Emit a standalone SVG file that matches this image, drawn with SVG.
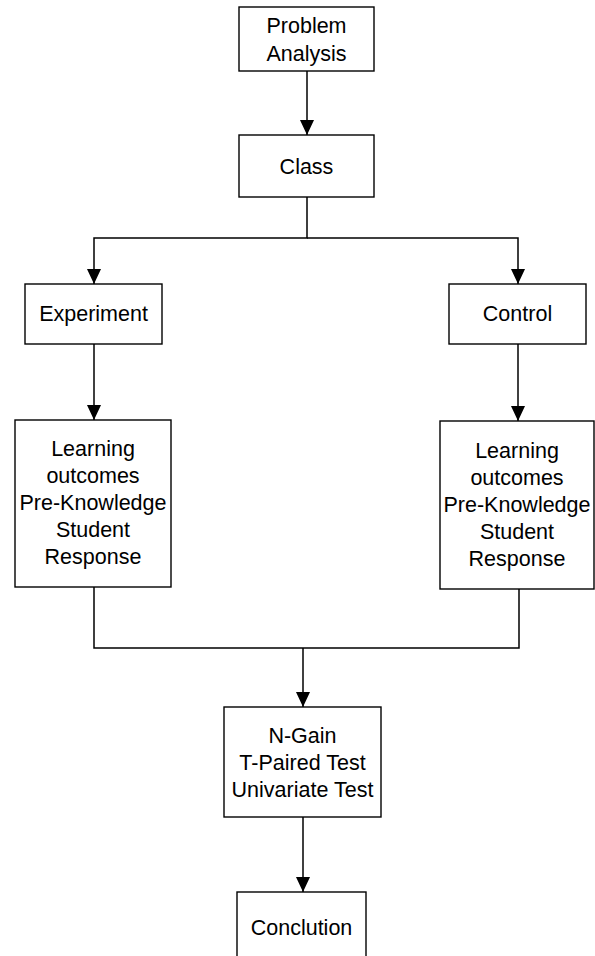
<svg xmlns="http://www.w3.org/2000/svg" width="595" height="956" viewBox="0 0 595 956">
<style>
.box{fill:#fff;stroke:#000;stroke-width:1.4}
.t{font-family:"Liberation Sans",Arial,sans-serif;font-size:21.5px;fill:#000;text-anchor:middle}
.c{fill:none;stroke:#000;stroke-width:1.5}
</style>
<defs>
<marker id="ah" markerWidth="15" markerHeight="14" refX="15" refY="7" orient="auto" markerUnits="userSpaceOnUse" viewBox="0 0 15 14">
<path d="M0,0 L15,7 L0,14 Z" fill="#000"/>
</marker>
</defs>
<g id="connectors">
<path class="c" d="M307,71 V135" marker-end="url(#ah)"/>
<path class="c" d="M307,197 V238 H94 V284" marker-end="url(#ah)"/>
<path class="c" d="M307,238 H518 V284" marker-end="url(#ah)"/>
<path class="c" d="M94,344 V420" marker-end="url(#ah)"/>
<path class="c" d="M518,344 V421" marker-end="url(#ah)"/>
<path class="c" d="M94,587 V648 H519 V589"/>
<path class="c" d="M303,648 V707" marker-end="url(#ah)"/>
<path class="c" d="M303,817 V892" marker-end="url(#ah)"/>
</g>
<g id="problem">
<rect class="box" x="239" y="7" width="135" height="64"/>
<text class="t" x="306.5" y="33">Problem</text>
<text class="t" x="306.5" y="61">Analysis</text>
</g>
<g id="class">
<rect class="box" x="239" y="135" width="135" height="62"/>
<text class="t" x="306.5" y="174">Class</text>
</g>
<g id="experiment">
<rect class="box" x="25" y="284" width="137" height="60"/>
<text class="t" x="93.5" y="321">Experiment</text>
</g>
<g id="control">
<rect class="box" x="449" y="284" width="137" height="60"/>
<text class="t" x="517.5" y="321">Control</text>
</g>
<g id="learning-exp">
<rect class="box" x="15" y="420" width="156" height="167"/>
<text class="t" x="93" y="456">Learning</text>
<text class="t" x="93" y="483">outcomes</text>
<text class="t" x="93" y="510">Pre-Knowledge</text>
<text class="t" x="93" y="537">Student</text>
<text class="t" x="93" y="564">Response</text>
</g>
<g id="learning-ctrl">
<rect class="box" x="440" y="421" width="154" height="168"/>
<text class="t" x="517" y="458">Learning</text>
<text class="t" x="517" y="485">outcomes</text>
<text class="t" x="517" y="512">Pre-Knowledge</text>
<text class="t" x="517" y="539">Student</text>
<text class="t" x="517" y="566">Response</text>
</g>
<g id="analysis">
<rect class="box" x="224" y="707" width="157" height="110"/>
<text class="t" x="302.5" y="743">N-Gain</text>
<text class="t" x="302.5" y="770">T-Paired Test</text>
<text class="t" x="302.5" y="797">Univariate Test</text>
</g>
<g id="conclusion">
<rect class="box" x="237" y="892" width="129" height="80"/>
<text class="t" x="301.5" y="935">Conclution</text>
</g>
</svg>
